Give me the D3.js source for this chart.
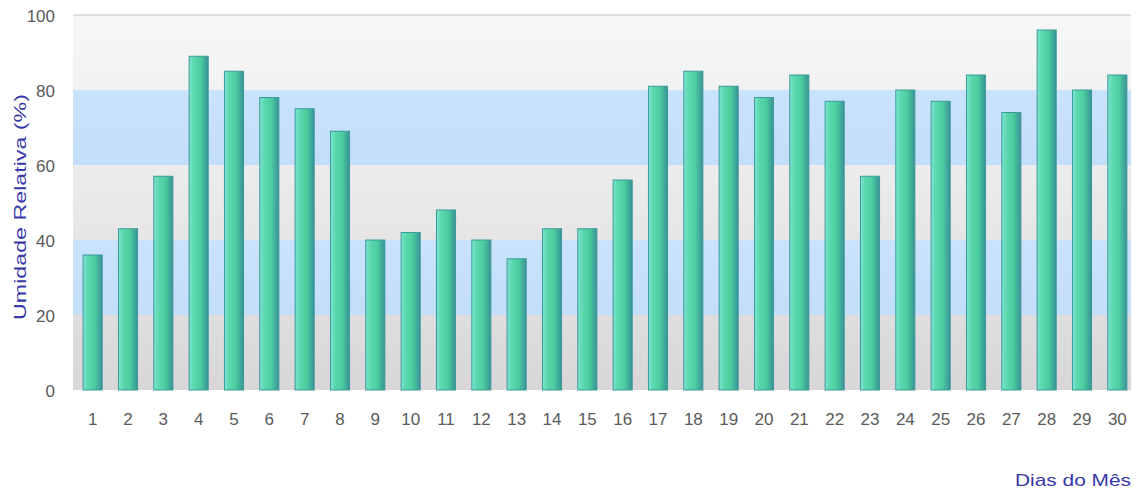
<!DOCTYPE html>
<html>
<head>
<meta charset="utf-8">
<script src="https://cdn.jsdelivr.net/npm/d3@7/dist/d3.min.js"></script>
<style>
  html, body { margin: 0; padding: 0; background: #ffffff; }
  svg { display: block; font-family: "Liberation Sans", Arial, sans-serif; }
</style>
</head>
<body>
<svg id="chart" width="1136" height="495"></svg>
<script>
// Umidade relativa diária (%) por dia do mês
const days = d3.range(1, 31).map(String);
const humidity = [36, 43, 57, 89, 85, 78, 75, 69, 40, 42,
                  48, 40, 35, 43, 43, 56, 81, 85, 81, 78,
                  84, 77, 57, 80, 77, 84, 74, 96, 80, 84];
const yTicks = [0, 20, 40, 60, 80, 100];
const bands = [
  { from: 0, to: 20, kind: "gray" },
  { from: 20, to: 40, kind: "blue" },
  { from: 40, to: 60, kind: "gray" },
  { from: 60, to: 80, kind: "blue" },
  { from: 80, to: 100, kind: "gray" }
];
const yTitle = "Umidade Relativa (%)";
const xTitle = "Dias do Mês";

const svg = d3.select("#chart");
const plot = { left: 73, right: 1131, top: 15, bottom: 390 };
const labelFont = "\"Liberation Sans\", Arial, sans-serif";

const y = d3.scaleLinear().domain([0, 100]).range([plot.bottom, plot.top]);
const x = d3.scaleBand().domain(days).range([75, 1135]).paddingInner(0.46).paddingOuter(0.23);

const defs = svg.append("defs");
// vertical gray backdrop: lighter at top, darker near the base
const bg = defs.append("linearGradient").attr("id", "bgGray")
  .attr("gradientUnits", "userSpaceOnUse")
  .attr("x1", 0).attr("x2", 0).attr("y1", plot.top).attr("y2", plot.bottom);
bg.append("stop").attr("offset", "0%").attr("stop-color", "#f7f7f7");
bg.append("stop").attr("offset", "50%").attr("stop-color", "#e9e9e9");
bg.append("stop").attr("offset", "100%").attr("stop-color", "#d8d6d8");

const bl = defs.append("linearGradient").attr("id", "bandBlue")
  .attr("x1", 0).attr("x2", 0).attr("y1", 0).attr("y2", 1);
bl.append("stop").attr("offset", "0%").attr("stop-color", "#c9e3fc");
bl.append("stop").attr("offset", "100%").attr("stop-color", "#c3def9");

// bar body: light aqua edge, green middle, dark teal on the right
const bar = defs.append("linearGradient").attr("id", "barFill")
  .attr("x1", 0).attr("x2", 1).attr("y1", 0).attr("y2", 0);
bar.append("stop").attr("offset", "0%").attr("stop-color", "#7fe4d2");
bar.append("stop").attr("offset", "25%").attr("stop-color", "#5ad8ae");
bar.append("stop").attr("offset", "60%").attr("stop-color", "#4ccd9f");
bar.append("stop").attr("offset", "85%").attr("stop-color", "#3fa99a");
bar.append("stop").attr("offset", "100%").attr("stop-color", "#3b8f96");

// plot background
svg.append("rect")
  .attr("x", plot.left).attr("y", plot.top)
  .attr("width", plot.right - plot.left).attr("height", plot.bottom - plot.top)
  .attr("fill", "url(#bgGray)");

svg.append("g").selectAll("rect")
  .data(bands.filter(b => b.kind === "blue"))
  .join("rect")
  .attr("x", plot.left)
  .attr("y", d => y(d.to))
  .attr("width", plot.right - plot.left)
  .attr("height", d => y(d.from) - y(d.to))
  .attr("fill", "url(#bandBlue)");

// top border line
svg.append("line")
  .attr("x1", plot.left).attr("x2", plot.right)
  .attr("y1", plot.top).attr("y2", plot.top)
  .attr("stroke", "#d8d8d8").attr("stroke-width", 1.5);

// bars
svg.append("g").selectAll("rect")
  .data(humidity)
  .join("rect")
  .attr("x", (d, i) => x(days[i]))
  .attr("y", d => y(d))
  .attr("width", x.bandwidth())
  .attr("height", d => y(0) - y(d))
  .attr("fill", "url(#barFill)")
  .attr("stroke", "#3d9a9c")
  .attr("stroke-width", 1);

// y axis labels
const yAxis = d3.axisLeft(y).tickValues(yTicks).tickSize(0).tickPadding(0);
const yg = svg.append("g").attr("transform", "translate(55,0)").call(yAxis);
yg.select(".domain").remove();
yg.selectAll("text")
  .attr("fill", "#5a5a5a")
  .attr("dy", "0.36em")
  .style("font-size", "17px")
  .style("font-family", labelFont);

// x axis labels
const xAxis = d3.axisBottom(x).tickSize(0).tickPadding(0);
const xg = svg.append("g").attr("transform", "translate(0,425)").call(xAxis);
xg.select(".domain").remove();
xg.selectAll("text")
  .attr("fill", "#5a5a5a")
  .attr("y", 0)
  .attr("dy", 0)
  .style("font-size", "17px")
  .style("font-family", labelFont);

// axis titles
svg.append("text")
  .attr("transform", "translate(26,207) rotate(-90)")
  .attr("text-anchor", "middle")
  .attr("fill", "#3838a8")
  .attr("textLength", 226)
  .attr("lengthAdjust", "spacingAndGlyphs")
  .style("font-size", "17px")
  .text(yTitle);

svg.append("text")
  .attr("x", 1131).attr("y", 486)
  .attr("text-anchor", "end")
  .attr("fill", "#3838a8")
  .attr("textLength", 116)
  .attr("lengthAdjust", "spacingAndGlyphs")
  .style("font-size", "17px")
  .text(xTitle);
</script>
</body>
</html>
